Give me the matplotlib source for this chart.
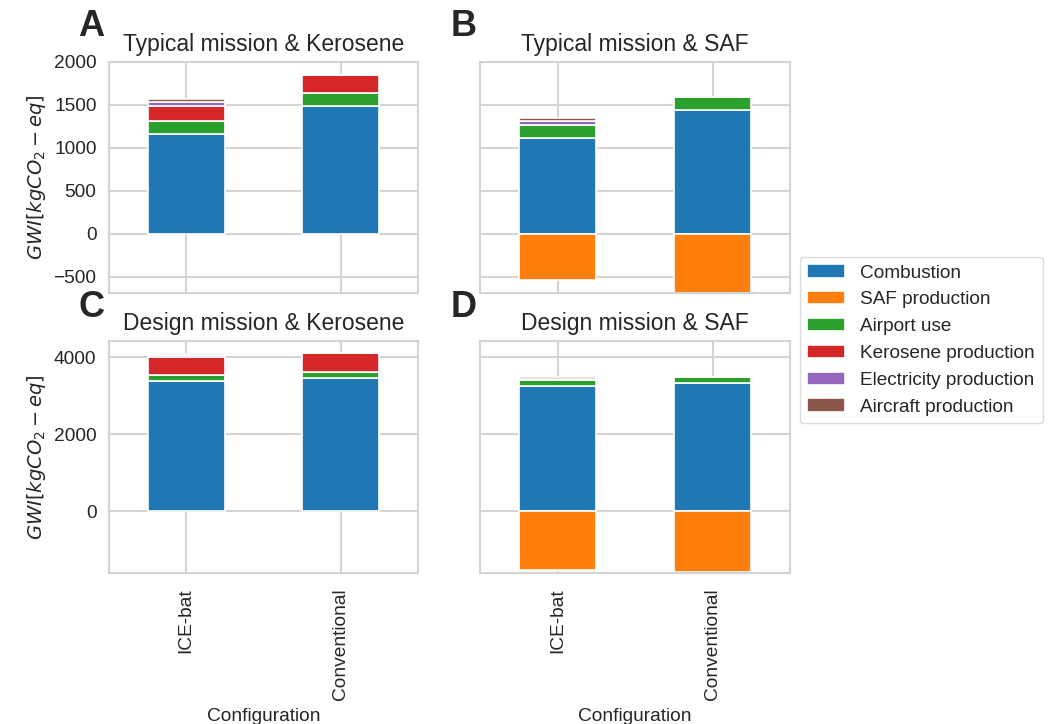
import matplotlib

matplotlib.use("Agg")
import matplotlib.pyplot as plt
import numpy as np
import seaborn as sns

configurations = ["ICE-bat", "Conventional"]
categories = [
    "Combustion",
    "SAF production",
    "Airport use",
    "Kerosene production",
    "Electricity production",
    "Aircraft production",
]

# values per configuration, in the order of `categories`
typical_kerosene_ice = [1160, 0, 150, 175, 45, 35]
typical_kerosene_conv = [1490, 0, 150, 210, 0, 0]
typical_saf_ice = [1120, -535, 145, 0, 45, 35]
typical_saf_conv = [1437, -690, 150, 0, 0, 0]
design_kerosene_ice = [3380, 0, 145, 490, 40, 35]
design_kerosene_conv = [3465, 0, 155, 490, 0, 0]
design_saf_ice = [3250, -1530, 150, 0, 40, 35]
design_saf_conv = [3340, -1585, 150, 0, 0, 0]

panel_titles = [
    "Typical mission & Kerosene",
    "Typical mission & SAF",
    "Design mission & Kerosene",
    "Design mission & SAF",
]
panel_letters = ["A", "B", "C", "D"]

sns.set_style("whitegrid")
plt.rcParams["font.family"] = ["Liberation Sans", "DejaVu Sans"]
plt.rcParams["axes.edgecolor"] = ".83"
plt.rcParams["grid.color"] = ".83"
plt.rcParams["grid.linewidth"] = 1.5

colors = ["#1f77b4", "#ff7f0e", "#2ca02c", "#d62728", "#9467bd", "#8c564b"]

W, H = 1053, 724


def _rect(left, top, right, bottom):
    return [left / W, 1 - bottom / H, (right - left) / W, (bottom - top) / H]


def draw_panel(ax, ice, conv):
    values = np.array([ice, conv], dtype=float)
    x = np.arange(len(configurations))
    pos_bottom = np.zeros(len(x))
    neg_bottom = np.zeros(len(x))
    for j, cat in enumerate(categories):
        v = values[:, j]
        bottom = np.where(v >= 0, pos_bottom, neg_bottom)
        ax.bar(x, v, width=0.5, bottom=bottom, color=colors[j],
               edgecolor="white", linewidth=1.2, label=cat, zorder=2)
        pos_bottom += np.clip(v, 0, None)
        neg_bottom += np.clip(v, None, 0)
    ax.set_xticks(x)
    ax.set_xlim(-0.5, 1.5)
    ax.set_axisbelow(True)
    ax.tick_params(axis="both", labelsize=13.8, length=0, pad=9)
    for spine in ax.spines.values():
        spine.set_color(".83")
        spine.set_linewidth(1.5)


fig = plt.figure(figsize=(W / 100, H / 100), dpi=100)
ax_a = fig.add_axes(_rect(109, 62, 418, 293))
ax_b = fig.add_axes(_rect(480, 62, 790, 293), sharey=ax_a)
ax_c = fig.add_axes(_rect(109, 341, 418, 573))
ax_d = fig.add_axes(_rect(480, 341, 790, 573), sharey=ax_c)
axes = [ax_a, ax_b, ax_c, ax_d]

draw_panel(ax_a, typical_kerosene_ice, typical_kerosene_conv)
draw_panel(ax_b, typical_saf_ice, typical_saf_conv)
draw_panel(ax_c, design_kerosene_ice, design_kerosene_conv)
draw_panel(ax_d, design_saf_ice, design_saf_conv)

ax_a.set_ylim(-690, 2000)
ax_a.set_yticks([-500, 0, 500, 1000, 1500, 2000])
ax_c.set_ylim(-1600, 4420)
ax_c.set_yticks([0, 2000, 4000])

for ax in (ax_b, ax_d):
    ax.tick_params(labelleft=False)
for ax in (ax_a, ax_b):
    ax.tick_params(labelbottom=False)
for ax in (ax_c, ax_d):
    ax.set_xticklabels(configurations, rotation=90)
    ax.tick_params(axis="x", pad=11)
    ax.set_xlabel("Configuration", fontsize=13.8, labelpad=6)

for ax in (ax_a, ax_c):
    ax.set_ylabel("$GWI[kgCO_2-eq]$", fontsize=14, labelpad=4)

for ax, title in zip(axes, panel_titles):
    ax.set_title(title, fontsize=16.5, pad=8)

letter_pos = [(91, 27), (464, 27), (91, 307), (464, 307)]
for letter, (lx, ly) in zip(panel_letters, letter_pos):
    fig.text(lx / W, 1 - ly / H, letter, fontsize=26, fontweight="bold",
             ha="center", va="center", color="#262626")

handles, labels = ax_a.get_legend_handles_labels()
fig.legend(handles, labels, loc="center left", bbox_to_anchor=(790 / W, 1 - 340 / H),
           fontsize=13.7, frameon=True, edgecolor=".83", handlelength=2.0)

fig.savefig("out.png", dpi=100)
